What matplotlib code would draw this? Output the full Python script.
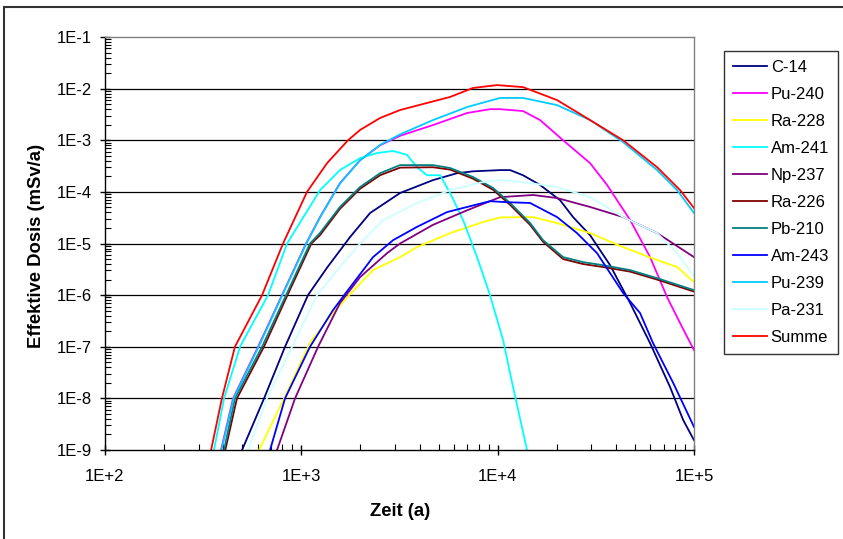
import matplotlib
matplotlib.use("Agg")
import matplotlib.pyplot as plt
from matplotlib.ticker import FixedLocator, LogLocator, NullFormatter
from matplotlib.patches import Rectangle
import numpy as np

plt.rcParams['font.family'] = ['Liberation Sans', 'DejaVu Sans']

# ---- data (time in years, dose in mSv/a) ----
c14_t = [499, 646, 826, 1081, 1352, 1770, 2240, 3183, 4685, 6213, 7492, 10290, 11570, 13460,
         16440, 20790, 24210, 29560, 37380, 47300, 59760, 75560, 88100, 100000]
c14_d = [1e-9, 1e-8, 1e-7, 1e-6, 3.4e-6, 1.33e-5, 3.9e-5, 9.5e-5, 1.69e-4, 2.3e-4, 2.5e-4, 2.64e-4,
         2.64e-4, 2.1e-4, 1.36e-4, 6.9e-5, 3.25e-5, 1.45e-5, 3.8e-6, 7.0e-7, 1.17e-7, 1.65e-8,
         3.8e-9, 1.55e-9]

pu240_t = [390, 449, 602, 797, 1057, 1245, 1573, 1991, 2518, 3183, 4685, 6987, 9143, 10290, 13460,
           16440, 21540, 29560, 36080, 47300, 59760, 72930, 85000, 100000]
pu240_d = [1e-9, 1e-8, 1e-7, 1e-6, 1e-5, 3.25e-5, 1.48e-4, 4.1e-4, 8.0e-4, 1.22e-3, 1.97e-3, 3.37e-3,
           4.0e-3, 4.0e-3, 3.68e-3, 2.46e-3, 1.0e-3, 3.6e-4, 1.36e-4, 2.84e-5, 5.45e-6, 9.15e-7,
           2.86e-7, 8.6e-8]

ra228_t = [609, 817, 1107, 1449, 1770, 2319, 3183, 3884, 5725, 8429, 10290, 15150, 20070, 29560,
           43550, 64880, 82040, 100000]
ra228_d = [1e-9, 1e-8, 1.2e-7, 4.5e-7, 1.05e-6, 3.05e-6, 5.45e-6, 8.5e-6, 1.59e-5, 2.6e-5, 3.2e-5,
           3.25e-5, 2.48e-5, 1.59e-5, 8.5e-6, 4.77e-6, 3.5e-6, 1.79e-6]

am241_t = [359, 404, 487, 677, 846, 1245, 1573, 1991, 2430, 2933, 3454, 3884, 4368, 5088, 5725,
           6669, 7853, 9143, 10660, 11980, 14110]
am241_d = [1e-9, 1e-8, 1e-7, 1e-6, 1e-5, 1.08e-4, 2.64e-4, 4.5e-4, 5.65e-4, 6.2e-4, 5.2e-4, 3.0e-4,
           2.1e-4, 2.1e-4, 9.5e-5, 2.84e-5, 5.45e-6, 1.0e-6, 1.34e-7, 1.65e-8, 1e-9]

np237_t = [752, 929, 1217, 1573, 1991, 2733, 3183, 4685, 6987, 10290, 15150, 20070, 29560, 43550,
           64880, 100000]
np237_d = [1e-9, 1e-8, 1e-7, 7.0e-7, 2.23e-6, 6.5e-6, 1.0e-5, 2.3e-5, 4.4e-5, 7.9e-5, 8.7e-5,
           7.6e-5, 5.1e-5, 3.25e-5, 1.59e-5, 5.45e-6]

ra226_t = [410, 470, 645, 850, 1125, 1245, 1573, 1991, 2518, 3183, 4685, 5725, 7492, 9473, 11570,
           14620, 17030, 21540, 27210, 34440, 47300, 64880, 100000]
ra226_d = [1e-9, 1e-8, 1e-7, 1e-6, 1e-5, 1.45e-5, 4.7e-5, 1.15e-4, 2.1e-4, 2.95e-4, 3.0e-4, 2.7e-4,
           1.8e-4, 1.1e-4, 5.6e-5, 2.3e-5, 1.08e-5, 5.0e-6, 4.0e-6, 3.5e-6, 2.85e-6, 2.0e-6, 1.17e-6]

pb210_t = [404, 459, 631, 836, 1107, 1245, 1573, 1991, 2518, 3183, 4685, 5725, 7492, 9473, 11570,
           14620, 17030, 21540, 27210, 34440, 47300, 64880, 100000]
pb210_d = [1e-9, 1e-8, 1e-7, 1e-6, 1e-5, 1.6e-5, 5.1e-5, 1.24e-4, 2.3e-4, 3.3e-4, 3.3e-4, 2.9e-4,
           1.94e-4, 1.19e-4, 6.1e-5, 2.5e-5, 1.16e-5, 5.45e-6, 4.36e-6, 3.8e-6, 3.05e-6, 2.13e-6,
           1.25e-6]

am243_t = [693, 826, 1107, 1449, 1653, 2319, 2933, 3884, 5524, 6987, 9143, 11170, 14620, 20070,
           25360, 32070, 43550, 53120, 61900, 78300, 100000]
am243_d = [1e-9, 1e-8, 1e-7, 5.1e-7, 1e-6, 5.45e-6, 1.16e-5, 2.1e-5, 4.06e-5, 5.1e-5, 6.6e-5,
           6.3e-5, 6.1e-5, 3.25e-5, 1.59e-5, 6.5e-6, 1.1e-6, 4.5e-7, 1.17e-7, 2.0e-8, 2.8e-9]

pu239_t = [392, 452, 606, 800, 1060, 1245, 1573, 1991, 2518, 3183, 4685, 6987, 10290, 13460,
           20070, 29560, 43550, 64880, 82040, 100000]
pu239_d = [1e-9, 1e-8, 1e-7, 1e-6, 1e-5, 3.2e-5, 1.45e-4, 4.1e-4, 8.1e-4, 1.3e-3, 2.46e-3, 4.4e-3,
           6.6e-3, 6.6e-3, 4.8e-3, 2.46e-3, 9.2e-4, 2.64e-4, 1.08e-4, 3.9e-5]

pa231_t = [535, 669, 897, 1202, 1573, 1991, 2608, 3884, 5725, 8429, 10290, 13460, 20070, 29560,
           43550, 64880, 82040, 100000]
pa231_d = [1e-9, 1e-8, 1e-7, 1e-6, 3.5e-6, 1.0e-5, 2.84e-5, 6.1e-5, 1.08e-4, 1.55e-4, 1.69e-4,
           1.55e-4, 1.24e-4, 7.9e-5, 3.25e-5, 1.59e-5, 6.5e-6, 2.3e-6]

summe_t = [347, 394, 459, 631, 807, 1069, 1352, 1729, 1991, 2518, 3183, 5725, 7492, 9932, 13460,
           20070, 29560, 43550, 64880, 85000, 100000]
summe_d = [1e-9, 1e-8, 1e-7, 1e-6, 1e-5, 1e-4, 3.6e-4, 1e-3, 1.58e-3, 2.7e-3, 3.85e-3, 6.9e-3,
           1.03e-2, 1.17e-2, 1.07e-2, 6.0e-3, 2.46e-3, 1.0e-3, 3.0e-4, 1.08e-4, 4.85e-5]

names = ["C-14", "Pu-240", "Ra-228", "Am-241", "Np-237", "Ra-226", "Pb-210", "Am-243",
         "Pu-239", "Pa-231", "Summe"]
colors = ["#000080", "#ff00ff", "#ffff00", "#00ffff", "#800080", "#800000", "#008080",
          "#0000ff", "#00ccff", "#ccffff", "#ff0000"]
series = [(c14_t, c14_d), (pu240_t, pu240_d), (ra228_t, ra228_d), (am241_t, am241_d),
          (np237_t, np237_d), (ra226_t, ra226_d), (pb210_t, pb210_d), (am243_t, am243_d),
          (pu239_t, pu239_d), (pa231_t, pa231_d), (summe_t, summe_d)]

xticks = [1e2, 1e3, 1e4, 1e5]
xlabels = ["1E+2", "1E+3", "1E+4", "1E+5"]
yticks = [1e-9, 1e-8, 1e-7, 1e-6, 1e-5, 1e-4, 1e-3, 1e-2, 1e-1]
ylabels = ["1E-9", "1E-8", "1E-7", "1E-6", "1E-5", "1E-4", "1E-3", "1E-2", "1E-1"]

# ---- figure ----
W, H = 843, 539
fig = plt.figure(figsize=(W / 100, H / 100), dpi=100)
fig.patch.set_facecolor("white")
ax = fig.add_axes([105 / W, 1 - 450 / H, (694 - 105) / W, (450 - 37) / H])

for (t, d), n, c in zip(series, names, colors):
    ax.plot(t, d, color=c, lw=1.3, label=n, solid_joinstyle="round")

ax.set_xscale("log")
ax.set_yscale("log")
ax.set_xlim(1e2, 1e5)
ax.set_ylim(1e-9, 1e-1)

ax.xaxis.set_major_locator(FixedLocator(xticks))
ax.set_xticklabels(xlabels)
ax.yaxis.set_major_locator(FixedLocator(yticks))
ax.set_yticklabels(ylabels)
ax.xaxis.set_minor_locator(LogLocator(base=10, subs=np.arange(2, 10), numticks=20))
ax.yaxis.set_minor_locator(LogLocator(base=10, subs=np.arange(2, 10), numticks=20))
ax.xaxis.set_minor_formatter(NullFormatter())
ax.yaxis.set_minor_formatter(NullFormatter())

ax.tick_params(which="major", direction="inout", length=7, width=1, labelsize=12,
               color="black")
ax.tick_params(which="minor", direction="in", length=4, width=0.8, color="black")
ax.tick_params(axis="y", which="major", pad=6)
ax.tick_params(axis="x", which="major", pad=10)

for yv in yticks[1:-1]:
    ax.axhline(yv, color="black", lw=0.9, zorder=0.5)

for s in ["top", "right"]:
    ax.spines[s].set_color("#808080")
    ax.spines[s].set_linewidth(1)
for s in ["left", "bottom"]:
    ax.spines[s].set_color("black")
    ax.spines[s].set_linewidth(1)

fig.text(400 / W, 1 - 512 / H, "Zeit (a)", fontsize=13.3, fontweight="bold",
         ha="center", va="center")
fig.text(37 / W, 1 - 246 / H, "Effektive Dosis (mSv/a)", fontsize=13.3, fontweight="bold",
         ha="center", va="center", rotation=90)

leg = fig.legend(loc="upper left", bbox_to_anchor=(724 / W, 1 - 51 / H),
                 bbox_transform=fig.transFigure, fontsize=12, frameon=True,
                 fancybox=False, edgecolor="black", handlelength=2.0, handletextpad=0.25,
                 labelspacing=0.72, borderpad=0.55, borderaxespad=0)
leg.get_frame().set_linewidth(1)

# outer chart border
fig.add_artist(Rectangle((4 / W, -0.05), 1.0, 1 - 7 / H + 0.05, transform=fig.transFigure,
                         fill=False, edgecolor="#333333", lw=1.5))

fig.savefig("out.png", dpi=100)
